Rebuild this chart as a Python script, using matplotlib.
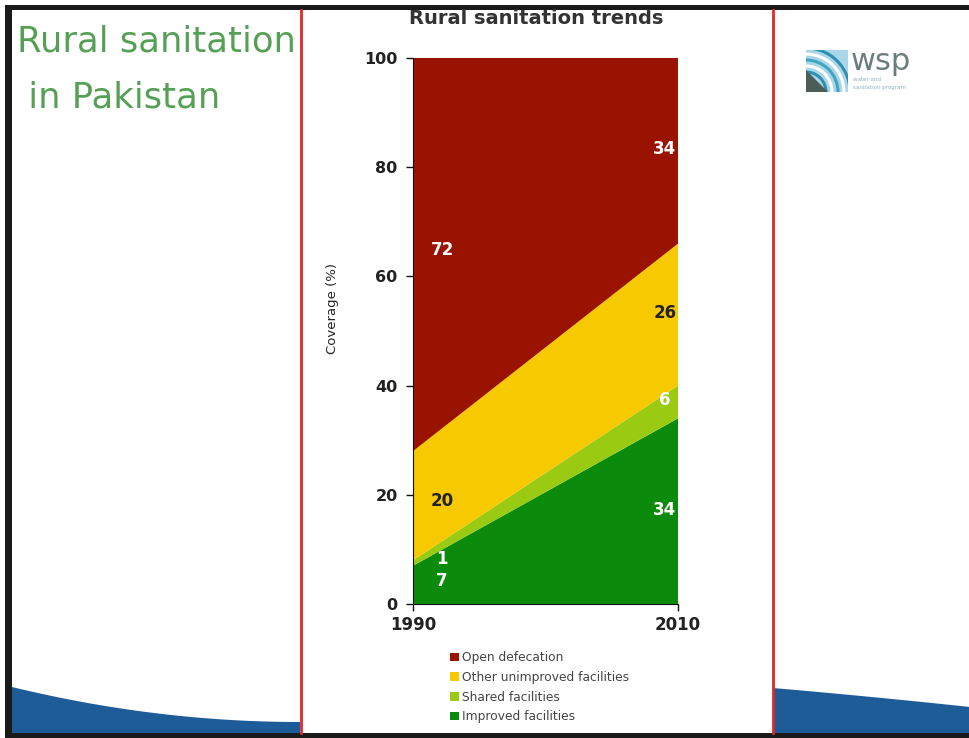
import numpy as np
import matplotlib.pyplot as plt
from matplotlib.patches import Rectangle, Polygon, Arc

# rural sanitation coverage, Pakistan (% of rural population)
years = [1990, 2010]
improved = [7, 34]
shared = [1, 6]
other_unimproved = [20, 26]
open_defecation = [72, 34]

series_names = ["Improved facilities", "Shared facilities",
                "Other unimproved facilities", "Open defecation"]
series_colors = ["#0b8a0b", "#9acb12", "#f6c900", "#9a1200"]
label_colors = ["white", "white", "#222222", "white"]

W, H = 970, 738
fig = plt.figure(figsize=(W / 100, H / 100), dpi=100)
fig.patch.set_facecolor("white")

# slide background drawn in pixel space
bg = fig.add_axes([0, 0, 1, 1])
bg.set_xlim(0, W)
bg.set_ylim(H, 0)
bg.axis("off")

# blue swoosh along the bottom of the slide
xl = np.linspace(12, 300, 60)
t = (xl - 12) / 288
yl = 687 + 35 * (1 - (1 - t) ** 2)
bg.add_patch(Polygon(np.column_stack([np.r_[xl, 300, 12], np.r_[yl, 733, 733]]),
                     closed=True, fc="#1e5b99", ec="none"))
xr = np.linspace(773, W, 40)
s = (xr - 773) / (W - 773)
yr = 688 + 19 * s - 2 * s * (1 - s)
bg.add_patch(Polygon(np.column_stack([np.r_[xr, W, 773], np.r_[yr, 733, 733]]),
                     closed=True, fc="#1e5b99", ec="none"))

# white chart panel with red edges
bg.add_patch(Rectangle((301, 10), 472, 723, fc="white", ec="none"))
bg.plot([301, 301], [10, 733], color="#e0282a", lw=2)
bg.plot([773, 773], [10, 733], color="#e0282a", lw=2)

# black frame
frame = "#1a1a1a"
bg.add_patch(Rectangle((5, 5), W - 5, 5, fc=frame, ec="none"))
bg.add_patch(Rectangle((5, 5), 7, H - 5, fc=frame, ec="none"))
bg.add_patch(Rectangle((5, 733), W - 5, 5, fc=frame, ec="none"))

# slide heading
bg.text(17, 51, "Rural sanitation", fontsize=25.5, color="#55a055", va="baseline")
bg.text(17, 108, " in Pakistan", fontsize=25.5, color="#55a055", va="baseline")

# wsp logo
icon = Rectangle((806, 50), 42, 42, fc="#a9d6e8", ec="none")
bg.add_patch(icon)
for r, c in zip([44, 38, 32, 26, 20], ["#2f8fb0", "white", "#3fa6c2", "white", "#2f8fb0"]):
    a = Arc((806, 92), 2 * r, 2 * r, theta1=270, theta2=360, color=c, lw=2.2)
    bg.add_patch(a)
    a.set_clip_path(icon)
bg.add_patch(Polygon([[806, 70], [806, 92], [828, 92]], closed=True, fc="#4c5d58", ec="none"))
bg.text(851, 70, "wsp", fontsize=22, color="#6d7d7d", va="baseline")
bg.text(853, 81, "water and", fontsize=4, color="#8fb0c0", va="baseline")
bg.text(853, 89, "sanitation program", fontsize=4, color="#8fb0c0", va="baseline")

# stacked area chart
ax = fig.add_axes([413 / W, (H - 604) / H, 265 / W, 546 / H])
stack = [improved, shared, other_unimproved, open_defecation]
polys = ax.stackplot(years, *stack, colors=series_colors, labels=series_names)
ax.set_xlim(years[0], years[-1])
ax.set_ylim(0, 100)
ax.set_yticks(range(0, 101, 20))
ax.set_xticks(years)
for side in ["top", "right"]:
    ax.spines[side].set_visible(False)
for side in ["left", "bottom"]:
    ax.spines[side].set_color("#111111")
ax.tick_params(axis="both", direction="out", length=5, width=1, colors="#111111")
ax.tick_params(axis="y", pad=6, labelsize=11.5)
ax.tick_params(axis="x", pad=4, labelsize=12)
for lbl in ax.get_xticklabels() + ax.get_yticklabels():
    lbl.set_fontweight("bold")
    lbl.set_color("#222222")

# value labels at the middle of each band
lower = np.zeros(len(years))
for vals, col in zip(stack, label_colors):
    vals = np.array(vals, dtype=float)
    mid = lower + vals / 2
    ax.text(years[0] + 2.2, mid[0] + 0.8, f"{vals[0]:.0f}", color=col, fontsize=12,
            fontweight="bold", ha="center", va="center")
    ax.text(years[-1] - 1.0, mid[-1] + 0.3, f"{vals[-1]:.0f}", color=col, fontsize=12,
            fontweight="bold", ha="center", va="center")
    lower = lower + vals

fig.text(536 / W, 1 - 19 / H, "Rural sanitation trends", fontsize=14,
         fontweight="bold", color="#333333", ha="center", va="center")
fig.text(333 / W, 1 - 308 / H, "Coverage (%)", fontsize=9.5, color="#222222",
         rotation=90, ha="center", va="center")

leg = fig.legend(polys[::-1], series_names[::-1], loc="upper left",
                 bbox_to_anchor=(444 / W, 1 - 645 / H), frameon=False,
                 fontsize=8.8, handlelength=0.7, handleheight=0.7,
                 handletextpad=0.25, labelspacing=0.55, borderpad=0,
                 labelcolor="#444444")

fig.savefig("out.png", dpi=100, facecolor="white")
